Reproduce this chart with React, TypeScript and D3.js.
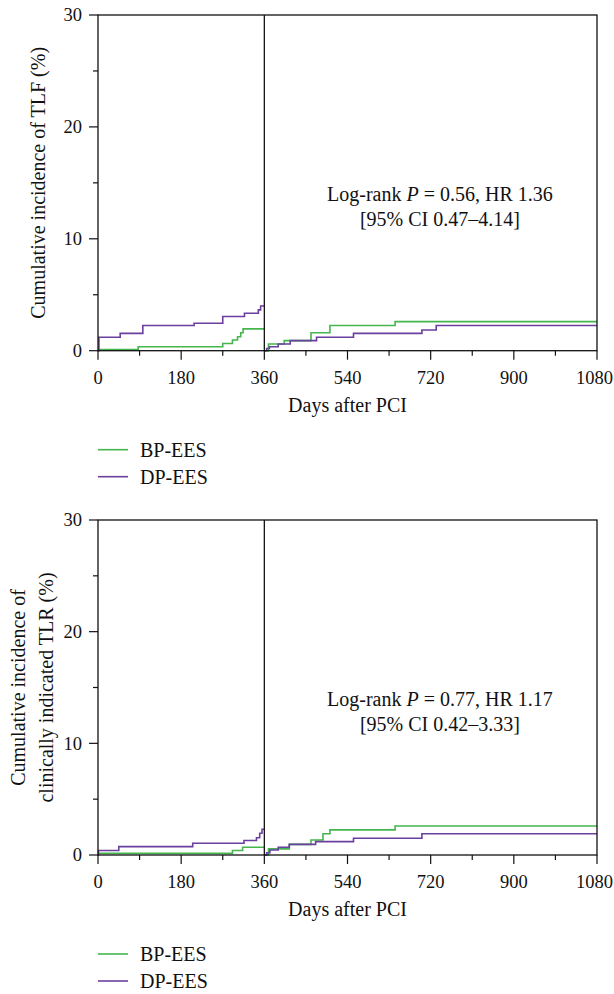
import React from "react";
import * as d3 from "d3";

const GREEN = "#45b54d";
const PURPLE = "#6b3fa0";

// x ticks
const xMajorTicks = [0, 180, 360, 540, 720, 900, 1080];
const xMinorTicks = [90, 270, 450, 630, 810, 990];
const yMajorTicks = [0, 10, 20, 30];
const yMinorTicks = [5, 15, 25];
const landmarkDay = 360;

// Panel 1 (TLF) — 0-360
const p1GreenATimes = [0, 87, 270, 291, 302, 309, 314, 360];
const p1GreenAValues = [0.1, 0.35, 0.65, 0.95, 1.25, 1.6, 1.95, 1.95];
const p1PurpleATimes = [0, 2, 48, 97, 208, 270, 317, 347, 352, 360];
const p1PurpleAValues = [0, 1.2, 1.55, 2.25, 2.45, 3.05, 3.35, 3.65, 4.0, 4.0];
// Panel 1 — 360-1080
const p1GreenBTimes = [360, 369, 403, 461, 502, 643, 1080];
const p1GreenBValues = [0, 0.6, 0.9, 1.6, 2.25, 2.6, 2.6];
const p1PurpleBTimes = [360, 365, 371, 390, 416, 473, 553, 701, 732, 1080];
const p1PurpleBValues = [0, 0.2, 0.35, 0.6, 0.9, 1.2, 1.55, 1.85, 2.25, 2.25];

// Panel 2 (CI-TLR) — 0-360
const p2GreenATimes = [0, 291, 313, 360];
const p2GreenAValues = [0.15, 0.4, 0.7, 0.7];
const p2PurpleATimes = [0, 1, 45, 205, 316, 343, 350, 355, 360];
const p2PurpleAValues = [0, 0.4, 0.75, 1.05, 1.3, 1.55, 1.95, 2.3, 2.3];
// Panel 2 — 360-1080
const p2GreenBTimes = [360, 369, 414, 461, 487, 502, 643, 1080];
const p2GreenBValues = [0, 0.55, 0.95, 1.35, 1.9, 2.25, 2.6, 2.6];
const p2PurpleBTimes = [360, 365, 372, 390, 414, 471, 553, 701, 1080];
const p2PurpleBValues = [0, 0.2, 0.45, 0.7, 0.95, 1.2, 1.5, 1.9, 1.9];

const legendLabels = ["BP-EES", "DP-EES"];
const xTitle = "Days after PCI";

const FONT = "'Liberation Serif', 'Times New Roman', serif";
const FS = 20;
const FS_TICK = 18.5;
const SVG_W = 614;

type Panel = {
  top: number;
  bottom: number;
  yTitle: string[];
  stats: [string, string, string];
  ci: string;
  series: { color: string; times: number[]; values: number[] }[];
};

const panels: Panel[] = [
  {
    top: 15,
    bottom: 350.7,
    yTitle: ["Cumulative incidence of TLF (%)"],
    stats: ["Log-rank ", "P", " = 0.56, HR 1.36"],
    ci: "[95% CI 0.47–4.14]",
    series: [
      { color: GREEN, times: p1GreenATimes, values: p1GreenAValues },
      { color: PURPLE, times: p1PurpleATimes, values: p1PurpleAValues },
      { color: GREEN, times: p1GreenBTimes, values: p1GreenBValues },
      { color: PURPLE, times: p1PurpleBTimes, values: p1PurpleBValues },
    ],
  },
  {
    top: 520,
    bottom: 855,
    yTitle: ["Cumulative incidence of", "clinically indicated TLR (%)"],
    stats: ["Log-rank ", "P", " = 0.77, HR 1.17"],
    ci: "[95% CI 0.42–3.33]",
    series: [
      { color: GREEN, times: p2GreenATimes, values: p2GreenAValues },
      { color: PURPLE, times: p2PurpleATimes, values: p2PurpleAValues },
      { color: GREEN, times: p2GreenBTimes, values: p2GreenBValues },
      { color: PURPLE, times: p2PurpleBTimes, values: p2PurpleBValues },
    ],
  },
];

const LEFT = 98;
const RIGHT = 597;

function PanelView({ p }: { p: Panel }) {
  const x = d3.scaleLinear().domain([0, 1080]).range([LEFT, RIGHT]);
  const y = d3.scaleLinear().domain([0, 30]).range([p.bottom, p.top]);
  const bottom = p.bottom;
  const line = d3
    .line<[number, number]>()
    .x((d) => x(d[0]))
    .y((d) => y(d[1]))
    .curve(d3.curveStepAfter);
  const cy = (p.top + bottom) / 2;
  const legendTop = bottom + 99;
  return (
    <g fontFamily={FONT} fontSize={FS} fill="#111">
      {p.series.map((s, i) => (
        <path
          key={i}
          d={line(s.times.map((t, j) => [t, s.values[j]] as [number, number])) || ""}
          fill="none"
          stroke={s.color}
          strokeWidth={1.6}
        />
      ))}
      <rect x={LEFT} y={p.top} width={RIGHT - LEFT} height={bottom - p.top} fill="none" stroke="#111" strokeWidth={1.3} />
      <line x1={x(landmarkDay)} x2={x(landmarkDay)} y1={p.top} y2={bottom} stroke="#111" strokeWidth={1.3} />
      {xMajorTicks.map((t) => {
        const label = String(t);
        const half = (label.length * FS_TICK * 0.5) / 2;
        const lx = Math.min(x(t), SVG_W - half - 1);
        return (
          <g key={"xm" + t}>
            <line x1={x(t)} x2={x(t)} y1={bottom} y2={bottom + 9} stroke="#111" strokeWidth={1.2} />
            <text x={lx} y={bottom + 27} dy="0.35em" textAnchor="middle" fontSize={FS_TICK}>
              {label}
            </text>
          </g>
        );
      })}
      {xMinorTicks.map((t) => (
        <line key={"xn" + t} x1={x(t)} x2={x(t)} y1={bottom} y2={bottom + 5} stroke="#111" strokeWidth={1.2} />
      ))}
      {yMajorTicks.map((t) => (
        <g key={"ym" + t}>
          <line x1={LEFT} x2={LEFT - 9} y1={y(t)} y2={y(t)} stroke="#111" strokeWidth={1.2} />
          <text x={LEFT - 16} y={y(t)} dy="0.35em" textAnchor="end" fontSize={FS_TICK}>
            {t}
          </text>
        </g>
      ))}
      {yMinorTicks.map((t) => (
        <line key={"yn" + t} x1={LEFT} x2={LEFT - 5} y1={y(t)} y2={y(t)} stroke="#111" strokeWidth={1.2} />
      ))}
      <text x={(LEFT + RIGHT) / 2} y={bottom + 54} dy="0.35em" textAnchor="middle">
        {xTitle}
      </text>
      {p.yTitle.map((t, i) => {
        const n = p.yTitle.length;
        const xx = n === 1 ? 38 : 18 + i * 28;
        return (
          <text key={i} transform={`translate(${xx},${cy}) rotate(-90)`} dy="0.35em" textAnchor="middle">
            {t}
          </text>
        );
      })}
      <text x={x(740)} y={y(14.0)} dy="0.35em" textAnchor="middle">
        {p.stats[0]}
        <tspan fontStyle="italic">{p.stats[1]}</tspan>
        {p.stats[2]}
      </text>
      <text x={x(740)} y={y(11.75)} dy="0.35em" textAnchor="middle">
        {p.ci}
      </text>
      {legendLabels.map((l, i) => (
        <g key={l}>
          <line
            x1={LEFT}
            x2={LEFT + 30}
            y1={legendTop + i * 27}
            y2={legendTop + i * 27}
            stroke={i === 0 ? GREEN : PURPLE}
            strokeWidth={1.6}
          />
          <text x={LEFT + 42} y={legendTop + i * 27} dy="0.35em">
            {l}
          </text>
        </g>
      ))}
    </g>
  );
}

export default function App() {
  return (
    <svg
      width={SVG_W}
      height={994}
      style={{ position: "absolute", left: 0, top: 0, background: "#fff" }}
    >
      <rect width={SVG_W} height={994} fill="#fff" />
      {panels.map((p, i) => (
        <PanelView key={i} p={p} />
      ))}
    </svg>
  );
}
